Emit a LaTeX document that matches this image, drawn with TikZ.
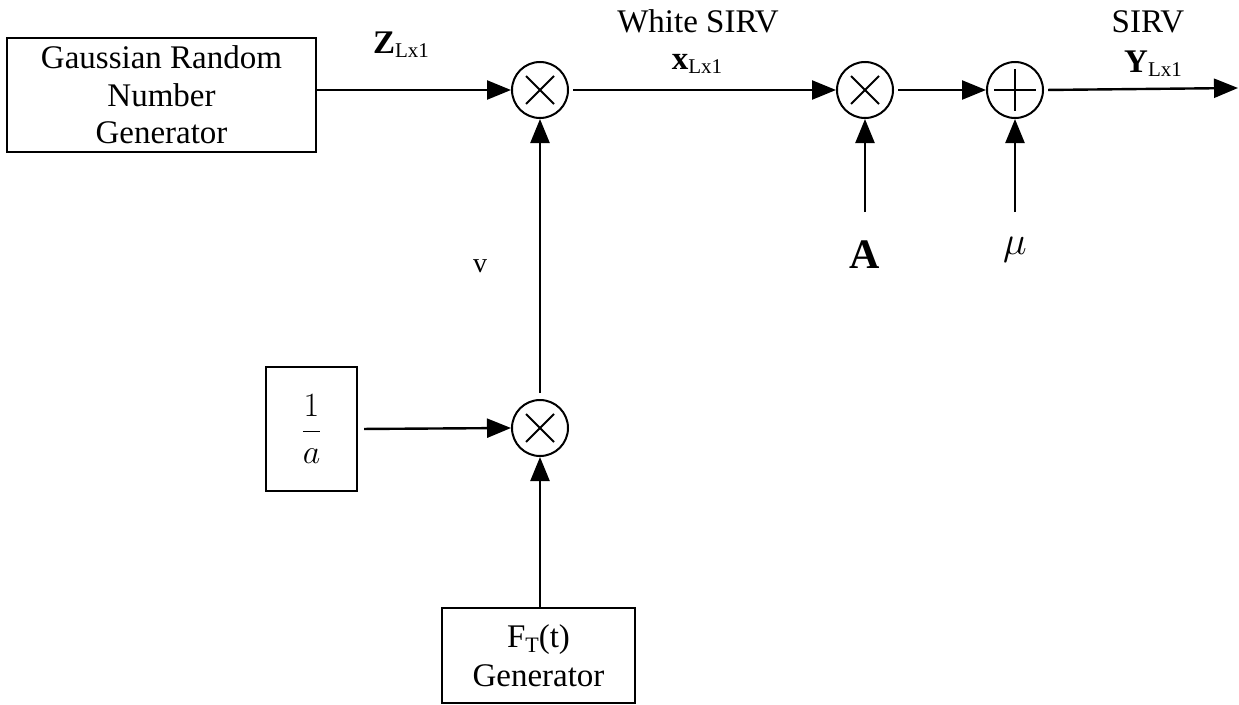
\RequirePackage{fix-cm}
\documentclass[tikz,border=0pt]{standalone}
\usepackage{fontspec}
\setmainfont{Liberation Serif}
\usetikzlibrary{arrows.meta}
\newcommand\mysub[1]{\raisebox{-4pt}{\fontsize{21}{21}\selectfont #1}}
\begin{document}
\begin{tikzpicture}[x=1pt,y=-1pt, line width=2.4pt,
  conn/.style={-{Triangle[length=24pt,width=19pt]}},
  blk/.style={draw, line width=2.4pt, inner sep=0pt, align=center, font=\fontsize{33}{37.5}\selectfont},
  opc/.style={draw, circle, minimum size=56pt, inner sep=0pt, line width=2pt},
  lbl/.style={font=\fontsize{33}{38}\selectfont, inner sep=0pt},
  sym/.style={line width=2pt},
]
\useasboundingbox (0,0) rectangle (1239,704);

% blocks
\node[blk, minimum width=309pt, minimum height=114pt] (grng) at (161.5,95) {Gaussian Random\\Number\\Generator};
\node[blk, minimum width=91pt, minimum height=124pt] (inva) at (311.5,429) {\fontsize{34}{40}\selectfont$\displaystyle\frac{1}{a}$};
\node[blk, minimum width=193pt, minimum height=95pt, text depth=0pt] (fgen) at (538.5,655.5) {\raisebox{2pt}{F\raisebox{-5pt}{\fontsize{22}{22}\selectfont T}(t)}\\Generator};

% operators
\node[opc] (m1) at (540,90) {};
\node[opc] (m2) at (865,90) {};
\node[opc] (sm) at (1015,90) {};
\node[opc] (m3) at (540,428) {};
\foreach \n in {m1,m2,m3}{
  \draw[sym] (\n.center) ++(-14,-14) -- ++(28,28);
  \draw[sym] (\n.center) ++(-14,14) -- ++(28,-28);
}
\draw[sym] (sm.center) ++(-21,0) -- ++(42,0);
\draw[sym] (sm.center) ++(0,-21) -- ++(0,42);

% labels
\node[lbl] (zl) at (401,45) {\textbf{Z}\mysub{Lx1}};
\node[lbl] (ws) at (698,21) {White SIRV};
\node[lbl] (xl) at (697,64) {\textbf{x}\mysub{Lx1}};
\node[lbl] (sv) at (1148,22) {SIRV};
\node[lbl] (yl) at (1153,64) {\textbf{Y}\mysub{Lx1}};
\node[lbl, font=\bfseries\fontsize{42}{42}\selectfont] (A) at (865,255) {A};
\node[lbl, font=\fontsize{40}{40}\selectfont] (mu) at (1015,250) {$\mu$};
\node[lbl, font=\fontsize{28}{28}\selectfont] (v) at (480,266) {v};

% coordinates
\coordinate (ain) at (865,212);
\coordinate (muin) at (1015,212);
\coordinate (out) at (1238,88);

% connectors
\draw[conn] (grng.east |- m1) -- (m1.west);
\draw[conn, shorten <=4pt] (m1) -- (m2);
\draw[conn, shorten <=4pt] (m2) -- (sm);
\draw[conn, shorten <=4pt] (sm.east) -- (out);
\draw[conn] (ain) -- (m2.south);
\draw[conn] (muin) -- (sm.south);
\draw[conn, shorten <=6pt] (m3) -- (m1);
\draw[conn, shorten <=6pt] (inva.east) -- (m3.west);
\draw[conn] (m3 |- fgen.north) -- (m3.south);
\end{tikzpicture}
\end{document}
